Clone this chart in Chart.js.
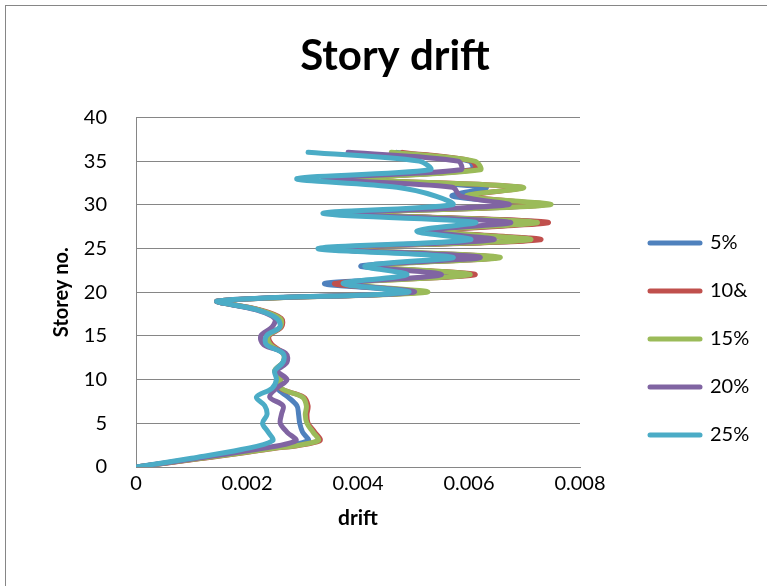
<!DOCTYPE html>
<html>
<head>
<meta charset="utf-8">
<title>Story drift</title>
<script src="https://cdn.jsdelivr.net/npm/chart.js@4/dist/chart.umd.min.js"></script>
<style>
  html, body { margin: 0; padding: 0; background: #ffffff; }
  #wrap { position: relative; width: 767px; height: 586px; overflow: hidden; }
  #wrap canvas { position: absolute; left: 0; top: 0; }
  /* outer frame of the chart sheet */
  #frame { position: absolute; left: 5px; top: 5px; width: 900px; height: 700px;
           border-left: 1px solid #868686; border-top: 1px solid #868686; pointer-events: none; }
</style>
</head>
<body>
<div id="wrap">
  <canvas id="chart" width="767" height="586"></canvas>
  <div id="frame"></div>
</div>
<script>
// Storey numbers (y) and inter-storey drift per storey (x) for each case
const storeys = [0, 1, 2, 3, 4, 5, 6, 7, 8, 9, 10, 11, 12, 13, 14, 15, 16, 17, 18,
                 19, 20, 21, 22, 23, 24, 25, 26, 27, 28, 29, 30, 31, 32, 33, 34, 35, 36];

const seriesNames = ['5%', '10&', '15%', '20%', '25%'];

const drift5 = [0, 0.00115, 0.00225, 0.0031, 0.0030, 0.00295, 0.00293, 0.0029, 0.00274, 0.00255,
  0.0026, 0.0025, 0.00265, 0.00265, 0.00238, 0.00235, 0.0026, 0.00258, 0.0022, 0.00148,
  0.00505, 0.0034, 0.006, 0.00405, 0.00645, 0.00345, 0.00715, 0.0054, 0.0073, 0.0038,
  0.0073, 0.0057, 0.0063, 0.0039, 0.00605, 0.006, 0.0047];

const drift10 = [0, 0.0012, 0.00235, 0.00331, 0.00322, 0.0031, 0.00308, 0.0031, 0.00302, 0.0026,
  0.0026, 0.00252, 0.00266, 0.00266, 0.00245, 0.0024, 0.00262, 0.00262, 0.00222, 0.00148,
  0.0051, 0.00358, 0.00611, 0.0042, 0.0065, 0.0035, 0.00728, 0.0055, 0.00742, 0.00385,
  0.00735, 0.006, 0.00695, 0.00395, 0.0061, 0.00605, 0.0048];

const drift15 = [0, 0.00118, 0.00233, 0.00328, 0.00319, 0.00308, 0.00305, 0.00307, 0.003, 0.00262,
  0.0026, 0.0025, 0.00265, 0.00265, 0.00242, 0.00238, 0.0026, 0.0026, 0.0022, 0.00148,
  0.00524, 0.0038, 0.00602, 0.00425, 0.00656, 0.0035, 0.0071, 0.00545, 0.00722, 0.0039,
  0.00746, 0.00596, 0.00697, 0.00397, 0.0062, 0.0061, 0.0046];

const drift20 = [0, 0.0011, 0.00215, 0.00288, 0.00272, 0.0026, 0.00262, 0.00265, 0.00241, 0.00253,
  0.00272, 0.00255, 0.00272, 0.0027, 0.0023, 0.00225, 0.00245, 0.0025, 0.00215, 0.00148,
  0.005, 0.0038, 0.0055, 0.0042, 0.0062, 0.00345, 0.00644, 0.00525, 0.00674, 0.0037,
  0.0067, 0.00585, 0.0057, 0.00337, 0.00585, 0.0058, 0.00382];

const drift25 = [0, 0.001, 0.0019, 0.00246, 0.00238, 0.00228, 0.00236, 0.00232, 0.00217, 0.00245,
  0.00253, 0.0025, 0.00265, 0.00265, 0.00235, 0.00235, 0.00259, 0.00254, 0.00217, 0.00148,
  0.0049, 0.00373, 0.00488, 0.00413, 0.00571, 0.00328, 0.00602, 0.00506, 0.00611, 0.00337,
  0.0057, 0.0054, 0.0047, 0.0029, 0.0053, 0.0051, 0.0031];

const driftSeries = [drift5, drift10, drift15, drift20, drift25];
const seriesColors = ['#4F81BD', '#C0504D', '#9BBB59', '#8064A2', '#4BACC6'];

const xTickLabels = ['0', '0.002', '0.004', '0.006', '0.008'];
const yTickStep = 5;

const FONT = 'Lato, "Open Sans", "DejaVu Sans", sans-serif';

// Moves the legend box to a fixed spot to the right of the plot
const legendAnchor = {
  id: 'legendAnchor',
  afterLayout(chart, args, opts) {
    const lg = chart.legend;
    if (!lg) return;
    lg.left = opts.left;
    lg.right = opts.left + lg.width;
    lg.top = opts.top;
    lg.bottom = opts.top + lg.height;
  }
};

const datasets = seriesNames.map((name, i) => ({
  label: name,
  data: storeys.map((s, k) => ({ x: driftSeries[i][k], y: s })),
  borderColor: seriesColors[i],
  backgroundColor: seriesColors[i],
  borderWidth: 5,
  borderCapStyle: 'round',
  borderJoinStyle: 'round',
  showLine: true,
  pointRadius: 0,
  pointHoverRadius: 0,
  tension: 0.35,
  order: seriesNames.length - 1 - i   // later cases are painted over earlier ones
}));

new Chart(document.getElementById('chart'), {
  type: 'scatter',
  data: { datasets },
  plugins: [legendAnchor],
  options: {
    responsive: false,
    animation: false,
    devicePixelRatio: 1,
    layout: { padding: { left: 23, right: 0, top: 0, bottom: 0 } },
    plugins: {
      title: {
        display: true,
        text: 'Story drift',
        color: '#000',
        font: { family: FONT, size: 42, weight: 'bold' },
        padding: { top: 31, bottom: 36 }
      },
      legend: {
        position: 'right',
        align: 'start',
        labels: {
          usePointStyle: true,
          pointStyle: 'line',
          pointStyleWidth: 50,
          padding: 28,
          color: '#000',
          font: { family: FONT, size: 20 },
          sort: (a, b) => a.datasetIndex - b.datasetIndex,
          // legend samples drawn as rounded line strokes
          generateLabels: (chart) =>
            Chart.defaults.plugins.legend.labels.generateLabels(chart)
              .map((item) => Object.assign(item, { lineCap: 'round', lineWidth: 5 }))
        }
      },
      legendAnchor: { left: 622, top: 205 },
      tooltip: { enabled: false }
    },
    scales: {
      x: {
        type: 'linear',
        min: 0,
        max: 0.008,
        grid: { display: false, drawTicks: false },
        border: { display: true, color: '#868686', width: 1 },
        ticks: {
          stepSize: 0.002,
          padding: 5,
          color: '#000',
          maxRotation: 0,
          autoSkip: false,
          font: { family: FONT, size: 20 },
          callback: (value, index) => xTickLabels[index]
        },
        title: {
          display: true,
          text: 'drift',
          color: '#000',
          font: { family: FONT, size: 21, weight: 'bold' },
          padding: { top: 0, bottom: 55 }
        },
        afterFit: (scale) => { scale.height = 119; scale.paddingRight = 187; }
      },
      y: {
        type: 'linear',
        min: 0,
        max: 40,
        grid: { color: '#868686', lineWidth: 1, drawTicks: false },
        border: { display: true, color: '#868686', width: 1 },
        ticks: {
          stepSize: yTickStep,
          padding: 29,
          color: '#000',
          font: { family: FONT, size: 20 }
        },
        title: {
          display: true,
          text: 'Storey no.',
          color: '#000',
          font: { family: FONT, size: 20, weight: 'bold' },
          padding: { top: 27, bottom: 0 }
        },
        afterFit: (scale) => { scale.width = 113; }
      }
    }
  }
});
</script>
</body>
</html>
